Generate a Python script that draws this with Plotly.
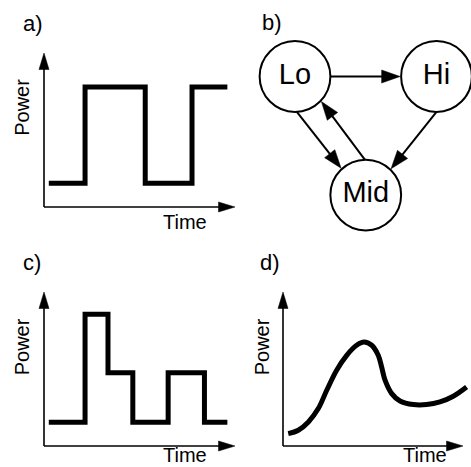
import numpy as np
import plotly.graph_objects as go

W, H = 471, 467
FONT = "Liberation Sans, Arial, Helvetica, sans-serif"

# ---------------- data ----------------
# a) square-wave power profile
a_time = [0.25, 2.15, 5.3, 7.75, 9.6]
a_power = [1.55, 7.8, 1.55, 7.8, 7.8]

# c) multi-level power profile
c_time = [0.25, 2.15, 3.35, 4.65, 6.5, 8.4, 9.6]
c_power = [1.55, 8.55, 4.75, 1.55, 4.75, 1.55, 1.55]

# d) smooth power curve
d_time = [0.29, 0.85, 1.41, 1.96, 2.43, 2.98, 3.54, 4.09, 4.5, 4.93,
          5.29, 5.48, 5.67, 6.04, 6.5, 7.24, 7.98, 8.72, 9.46, 10.2]
d_power = [0.8, 1.02, 1.56, 2.43, 3.62, 4.92, 5.89, 6.54, 6.75, 6.54,
           5.89, 5.13, 4.27, 3.4, 2.92, 2.69, 2.69, 2.86, 3.23, 3.83]

# b) state graph
node_names = ["Lo", "Hi", "Mid"]
node_x = [-1.0, 1.0, 0.0]
node_y = [0.0, 0.0, -1.675]
node_radius = 0.5
edge_src = ["Lo", "Lo", "Mid", "Hi"]
edge_dst = ["Hi", "Mid", "Lo", "Mid"]
edge_src_angle = [0, -87, 91.5, -90]
edge_dst_angle = [180, 132.6, -43.5, 46]

panel_labels = ["a)", "b)", "c)", "d)"]
x_label = "Time"
y_label = "Power"

# ---------------- layout helpers ----------------
AX_RANGE = [-0.5, 10.4]
AXIS_LEN = 10
panels = {
    "a": dict(ax="", origin=(44, 207), ppu=(19.1, 15.4)),
    "c": dict(ax="3", origin=(44, 446), ppu=(19.1, 15.4)),
    "d": dict(ax="4", origin=(283, 446), ppu=(18.0, 15.4)),
}
B_PPU = 70.75
B_LO_PX = (295.0, 76.5)
B_DOM_PX = (240, 471, 0, 240)


def px2paper(px, py):
    return px / W, 1 - py / H


def triangle(tip, direction, length_px, half_w_px, ppu):
    ppu = np.array(ppu, float)
    t = np.array(tip, float) * ppu
    d = np.array(direction, float)
    d = d / np.linalg.norm(d)
    n = np.array([-d[1], d[0]])
    base = t - d * length_px
    p1 = base + n * half_w_px
    p2 = base - n * half_w_px
    pts = np.array([t, p1, p2, t]) / ppu
    base_inner = (t - d * (length_px - 1.5)) / ppu
    return pts[:, 0], pts[:, 1], base_inner


fig = go.Figure()
layout = dict(
    width=W, height=H,
    margin=dict(l=0, r=0, t=0, b=0),
    paper_bgcolor="white", plot_bgcolor="white",
    showlegend=False,
)


def hidden_axis(domain, rng, anchor):
    return dict(domain=domain, range=rng, visible=False, showgrid=False,
                zeroline=False, fixedrange=True, anchor=anchor)


for key, p in panels.items():
    s = p["ax"]
    ox, oy = p["origin"]
    px_, py_ = p["ppu"]
    xd = [(ox + AX_RANGE[0] * px_) / W, (ox + AX_RANGE[1] * px_) / W]
    yd = [1 - (oy - AX_RANGE[0] * py_) / H, 1 - (oy - AX_RANGE[1] * py_) / H]
    layout["xaxis" + s] = hidden_axis(xd, AX_RANGE, "y" + s)
    layout["yaxis" + s] = hidden_axis(yd, AX_RANGE, "x" + s)
    xa, ya = "x" + s, "y" + s
    # axis arrows
    for tip, dirn in [((0, AXIS_LEN), (0, 1)), ((AXIS_LEN, 0), (1, 0))]:
        tx, ty, bi = triangle(tip, dirn, 16.5, 5.0, p["ppu"])
        fig.add_trace(go.Scatter(x=[0, bi[0]], y=[0, bi[1]], mode="lines",
                                 line=dict(color="black", width=1.6),
                                 xaxis=xa, yaxis=ya, hoverinfo="skip"))
        fig.add_trace(go.Scatter(x=tx, y=ty, mode="lines", fill="toself",
                                 fillcolor="black", line=dict(color="black", width=0.5),
                                 xaxis=xa, yaxis=ya, hoverinfo="skip"))

# signals
fig.add_trace(go.Scatter(x=a_time, y=a_power, mode="lines",
                         line=dict(color="black", width=5, shape="hv"),
                         xaxis="x", yaxis="y"))
fig.add_trace(go.Scatter(x=c_time, y=c_power, mode="lines",
                         line=dict(color="black", width=5, shape="hv"),
                         xaxis="x3", yaxis="y3"))
fig.add_trace(go.Scatter(x=d_time, y=d_power, mode="lines",
                         line=dict(color="black", width=5, shape="spline", smoothing=1.0),
                         xaxis="x4", yaxis="y4"))

# panel b axes (equal scaling)
bx0, bx1, by0, by1 = B_DOM_PX
lo_x, lo_y = B_LO_PX
bxr = [node_x[0] - (lo_x - bx0) / B_PPU, node_x[0] + (bx1 - lo_x) / B_PPU]
byr = [node_y[0] - (by1 - lo_y) / B_PPU, node_y[0] + (lo_y - by0) / B_PPU]
layout["xaxis2"] = hidden_axis([bx0 / W, bx1 / W], bxr, "y2")
layout["yaxis2"] = hidden_axis([1 - by1 / H, 1 - by0 / H], byr, "x2")

pos = {n: (x, y) for n, x, y in zip(node_names, node_x, node_y)}
for s_, d_, sa, da in zip(edge_src, edge_dst, edge_src_angle, edge_dst_angle):
    sx, sy = pos[s_]
    dx, dy = pos[d_]
    start = np.array([sx + node_radius * np.cos(np.radians(sa)),
                      sy + node_radius * np.sin(np.radians(sa))])
    r_tip = node_radius + 1.0 / B_PPU
    tip = np.array([dx + r_tip * np.cos(np.radians(da)),
                    dy + r_tip * np.sin(np.radians(da))])
    tx, ty, bi = triangle(tip, tip - start, 18.5, 6.5, (B_PPU, B_PPU))
    fig.add_trace(go.Scatter(x=[start[0], bi[0]], y=[start[1], bi[1]], mode="lines",
                             line=dict(color="black", width=2),
                             xaxis="x2", yaxis="y2", hoverinfo="skip"))
    fig.add_trace(go.Scatter(x=tx, y=ty, mode="lines", fill="toself",
                             fillcolor="black", line=dict(color="black", width=0.5),
                             xaxis="x2", yaxis="y2", hoverinfo="skip"))

fig.add_trace(go.Scatter(
    x=node_x, y=node_y, mode="markers+text", text=node_names,
    textposition="middle center",
    textfont=dict(family=FONT, size=29, color="black"),
    marker=dict(size=2 * node_radius * B_PPU, color="white",
                line=dict(color="black", width=2)),
    xaxis="x2", yaxis="y2", cliponaxis=False, hoverinfo="skip"))

# text annotations
anns = []


def ann(text, px, py, xanchor="center", size=20, angle=0):
    x, y = px2paper(px, py)
    anns.append(dict(text=text, x=x, y=y, xref="paper", yref="paper",
                     xanchor=xanchor, yanchor="middle", showarrow=False,
                     textangle=angle, font=dict(family=FONT, size=size, color="black")))


label_pos = [(21, 23.3), (260, 22.8), (21, 262.3), (258, 262.3)]
for t, (lx, ly) in zip(panel_labels, label_pos):
    ann(t, lx, ly, xanchor="left", size=22)

for (tx_, ty_) in [(209, 221.7), (209, 455.2), (449, 455.2)]:
    ann(x_label, tx_, ty_, xanchor="right", size=20)
for (tx_, ty_) in [(22.3, 107.5), (22.3, 347), (262.3, 347)]:
    ann(y_label, tx_, ty_, xanchor="center", size=20, angle=-90)

layout["annotations"] = anns
fig.update_layout(**layout)
fig.write_html("out.html")
